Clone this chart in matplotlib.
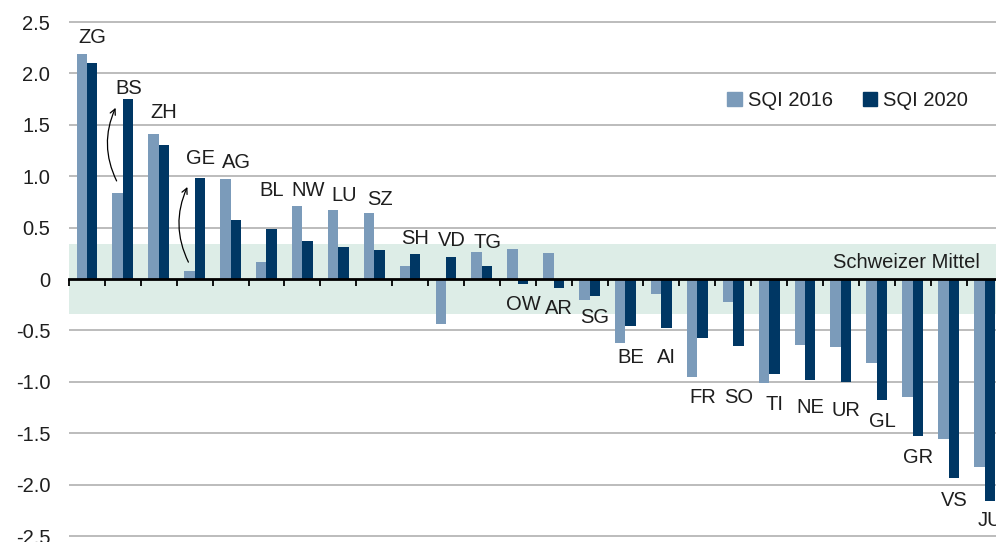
import numpy as np
import matplotlib
matplotlib.use('Agg')
import matplotlib.pyplot as plt
from matplotlib.patches import Patch

plt.rcParams['font.family'] = ['Liberation Sans', 'DejaVu Sans']

# Data
cantons = ['ZG', 'BS', 'ZH', 'GE', 'AG', 'BL', 'NW', 'LU', 'SZ', 'SH', 'VD', 'TG', 'OW',
           'AR', 'SG', 'BE', 'AI', 'FR', 'SO', 'TI', 'NE', 'UR', 'GL', 'GR', 'VS', 'JU']
sqi_2016 = [2.19, 0.84, 1.41, 0.08, 0.97, 0.17, 0.71, 0.67, 0.64, 0.13, -0.44, 0.26, 0.29,
            0.25, -0.20, -0.62, -0.15, -0.95, -0.22, -1.01, -0.64, -0.66, -0.82, -1.15, -1.56, -1.83]
sqi_2020 = [2.10, 1.75, 1.30, 0.98, 0.57, 0.49, 0.37, 0.31, 0.28, 0.24, 0.21, 0.13, -0.05,
            -0.09, -0.17, -0.46, -0.48, -0.57, -0.65, -0.92, -0.98, -1.00, -1.18, -1.53, -1.94, -2.16]
# label heights (as placed in the original)
label_y = [2.35, 1.85, 1.62, 1.17, 1.13, 0.86, 0.86, 0.81, 0.77, 0.39, 0.375, 0.36, -0.25,
           -0.29, -0.375, -0.76, -0.76, -1.155, -1.155, -1.225, -1.245, -1.275, -1.385, -1.735, -2.15, -2.345]
band = 0.34

c_light = '#7b9bba'
c_dark = '#003764'
txt = '#1e1e1e'
fs = 14.5

fig = plt.figure(figsize=(9.96, 5.42), dpi=100)
ax = fig.add_axes([0.0693, 0, 0.9307, 1])

x = np.arange(len(cantons))
w = 0.29

ax.axhspan(-band, band, color='#ddede7', zorder=0, lw=0)
for g in [2.5, 2.0, 1.5, 1.0, 0.5, -0.5, -1.0, -1.5, -2.0, -2.5]:
    ax.axhline(g, color='#a9a9a9', lw=1.1, zorder=1)

ax.bar(x - w/2, sqi_2016, w, color=c_light, zorder=2)
ax.bar(x + w/2, sqi_2020, w, color=c_dark, zorder=2)

for i, name in enumerate(cantons):
    ax.text(i + 0.15, label_y[i], name, ha='center', va='center', fontsize=fs, color=txt)

# arrows for BS and GE
ax.annotate('', xy=(1 - 0.17, 1.69), xytext=(1 - 0.14, 0.93),
            arrowprops=dict(arrowstyle='->', color='black', lw=0.9,
                            connectionstyle='arc3,rad=-0.25'), zorder=4)
ax.annotate('', xy=(3 - 0.17, 0.92), xytext=(3 - 0.14, 0.14),
            arrowprops=dict(arrowstyle='->', color='black', lw=0.9,
                            connectionstyle='arc3,rad=-0.25'), zorder=4)

ax.text(24.88, 0.16, 'Schweizer Mittel', ha='right', va='center', fontsize=fs, color=txt)

ax.set_xlim(-0.5, 25.32)
ax.set_ylim(-2.558, 2.714)

# zero line with category ticks
for s in ['top', 'right', 'left']:
    ax.spines[s].set_visible(False)
ax.spines['bottom'].set_position(('data', 0))
ax.spines['bottom'].set_linewidth(2)
ax.spines['bottom'].set_zorder(3)
ax.set_xticks(np.arange(0, 26) - 0.5)
ax.set_xticklabels([])
ax.tick_params(axis='x', direction='out', length=5, width=1.3, color='black')

yt = [2.5, 2.0, 1.5, 1.0, 0.5, 0, -0.5, -1.0, -1.5, -2.0, -2.5]
ax.set_yticks(yt)
ax.set_yticklabels(['0' if v == 0 else '%.1f' % v for v in yt], fontsize=fs, color=txt)
ax.tick_params(axis='y', length=0, pad=13.5)

handles = [Patch(color=c_light, label='SQI 2016'), Patch(color=c_dark, label='SQI 2020')]
fig.legend(handles=handles, loc='center', bbox_to_anchor=(0.851, 0.815), ncol=2,
           frameon=False, fontsize=fs, handlelength=0.7, handleheight=0.7,
           handletextpad=0.3, columnspacing=1.5, labelcolor=txt)

fig.savefig('out.png', dpi=100)
